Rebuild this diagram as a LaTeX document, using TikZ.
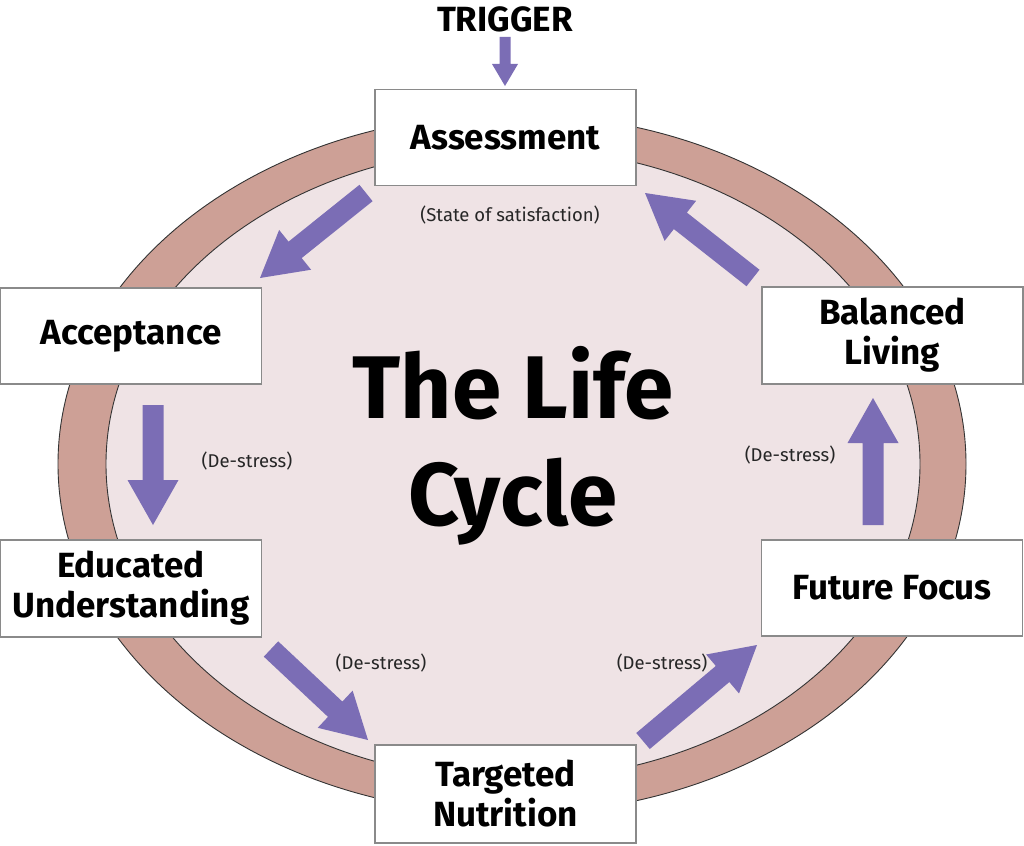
\documentclass[tikz,border=0pt]{standalone}
\usepackage{fontspec}
\setmainfont{Fira Sans}
\usetikzlibrary{calc}
\definecolor{ringc}{HTML}{CDA096}
\definecolor{innerc}{HTML}{EFE3E5}
\definecolor{arrowc}{HTML}{7B6DB5}
\definecolor{boxgray}{HTML}{8A8A8A}
\newcommand\blockarr[5]{% start, end, shaft half width, head half width, head length
  \fill[arrowc] ($(#1)!#3!90:(#2)$)
    -- ($($(#2)!#5!(#1)$)!#3!90:(#2)$)
    -- ($($(#2)!#5!(#1)$)!#4!90:(#2)$)
    -- (#2)
    -- ($($(#2)!#5!(#1)$)!#4!-90:(#2)$)
    -- ($($(#2)!#5!(#1)$)!#3!-90:(#2)$)
    -- ($(#1)!#3!-90:(#2)$) -- cycle;}
\begin{document}
\begin{tikzpicture}[x=1pt,y=-1pt,
  box/.style={draw=boxgray, line width=1.2pt, fill=white, minimum width=261pt,
    minimum height=96pt, inner sep=0pt, align=center,
    font=\fontsize{35}{40}\selectfont\bfseries},
  small/.style={font=\fontsize{18.5}{20}\selectfont, text=black!85, inner sep=0pt}]
\useasboundingbox (0,0) rectangle (1024,845);
% ring
\filldraw[fill=ringc, draw=black!80, line width=0.9pt] (512,464) ellipse [x radius=454pt, y radius=350pt];
\filldraw[fill=innerc, draw=black!80, line width=0.9pt] (513,464) ellipse [x radius=407pt, y radius=316pt];
% title
\node (title) at (513,446) [align=center, font=\fontsize{89}{107}\selectfont\bfseries] {The Life\\Cycle};
\node (trigger) at (505,19) [font=\fontsize{35}{38}\selectfont\bfseries, inner sep=0pt] {TRIGGER};
% boxes
\node[box] (assess) at (505.5,137.5) {Assessment};
\node[box] (accept) at (131,336) {Acceptance};
\node[box, minimum height=97pt] (edu) at (131,588.5) {Educated\\Understanding};
\node[box, minimum height=98pt] (nutri) at (505.5,794) {Targeted\\Nutrition};
\node[box] (future) at (892,588) {Future Focus};
\node[box, minimum height=97pt] (balanced) at (892.5,335.5) {Balanced\\Living};
% labels
\node[small] (l0) at (510,215) {(State of satisfaction)};
\node[small] (l1) at (247,461) {(De-stress)};
\node[small] (l2) at (381,663) {(De-stress)};
\node[small] (l3) at (662,663) {(De-stress)};
\node[small] (l4) at (790,455) {(De-stress)};
% arrow coordinates
\coordinate (t0) at (505,37);   \coordinate (h0) at (505,86);
\coordinate (t1) at (366,193);  \coordinate (h1) at (260,278);
\coordinate (t2) at (153,405);  \coordinate (h2) at (153,525);
\coordinate (t3) at (271,649);  \coordinate (h3) at (368,740);
\coordinate (t4) at (643,741);  \coordinate (h4) at (757,645);
\coordinate (t5) at (873,525);  \coordinate (h5) at (873,398);
\coordinate (t6) at (753,278);  \coordinate (h6) at (645,193);
\blockarr{t0}{h0}{5.5pt}{13pt}{22pt}
\blockarr{t1}{h1}{10.5pt}{25.5pt}{45pt}
\blockarr{t2}{h2}{10.5pt}{25.5pt}{45pt}
\blockarr{t3}{h3}{10.5pt}{25.5pt}{45pt}
\blockarr{t4}{h4}{10.5pt}{25.5pt}{45pt}
\blockarr{t5}{h5}{10.5pt}{25.5pt}{45pt}
\blockarr{t6}{h6}{10.5pt}{25.5pt}{45pt}
\end{tikzpicture}
\end{document}
